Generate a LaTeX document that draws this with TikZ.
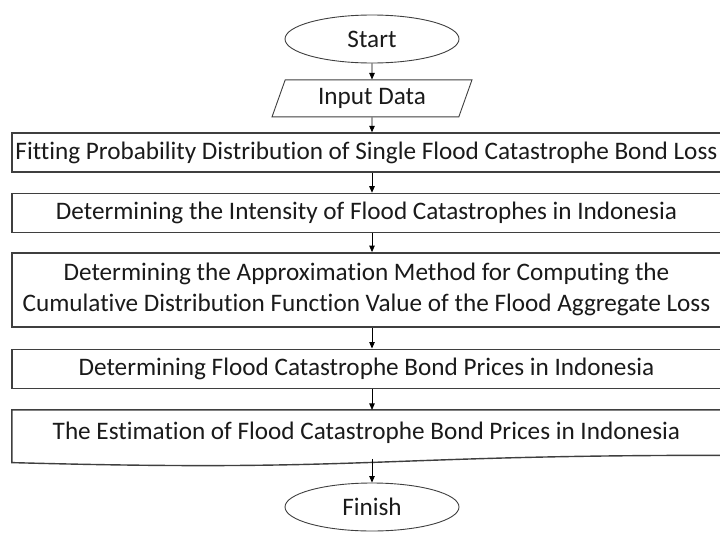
\documentclass[tikz,border=0pt]{standalone}
\usepackage{fontspec}
\setmainfont{Carlito}[Ligatures=NoCommon]
\usepackage{tikz}
\usetikzlibrary{
  arrows.meta,
  shapes.geometric,
  positioning,
  calc
}
\definecolor{fcLine}{HTML}{3F3F3F}
\definecolor{fcText}{HTML}{1A1A1A}
\tikzset{
  fcnode/.style={
    inner sep=0pt, font=\fontsize{25.2}{31}\selectfont, text=fcText, align=center
  },
  terminal/.style={fcnode, draw=fcLine, ellipse, line width=0.9pt,
    minimum width=174pt, minimum height=48pt},
  iobox/.style={fcnode, draw=fcLine, trapezium, trapezium left angle=68,
    trapezium right angle=112, trapezium stretches=true, line width=0.9pt,
    minimum width=200pt, minimum height=37pt},
  stepbox/.style={fcnode, draw=fcLine, line width=1.4pt,
    minimum width=709pt, minimum height=39pt},
  docbox/.style={fcnode, minimum width=709pt, minimum height=45pt},
  flow/.style={-{Triangle[length=6.5pt, width=5.5pt]}, line width=0.8pt, black}
}
\begin{document}
\begin{tikzpicture}[node distance=20pt]
  \useasboundingbox (0,0) rectangle (720pt,-536pt);
  \node[terminal] (start) at (372pt,-39pt) {Start};
  \node[iobox, below=16pt of start] (input) {Input Data};
  \node[stepbox] (fit) at (366.5pt,-152.5pt)
    {Fitting Probability Distribution of Single Flood Catastrophe Bond Loss};
  \node[stepbox, below=of fit] (intens)
    {Determining the Intensity of Flood Catastrophes in Indonesia};
  \node[stepbox, below=19pt of intens, minimum height=74pt] (approx)
    {Determining the Approximation Method for Computing the\\
     Cumulative Distribution Function Value of the Flood Aggregate Loss};
  \node[stepbox, below=21pt of approx] (price)
    {Determining Flood Catastrophe Bond Prices in Indonesia};
  \node[docbox, below=21pt of price] (estim)
    {The Estimation of Flood Catastrophe Bond Prices in Indonesia};
  \node[terminal] (finish) at (372pt,-507pt) {Finish};

  % document shape with the wavy lower edge
  \draw[fcLine, line width=1.4pt] (estim.north west) -- (estim.north east)
    -- (estim.south east)
    .. controls (estim.south) and ($(estim.south)+(0,-17pt)$)
    .. ($(estim.south west)+(0,-7.3pt)$) -- cycle;

  % connectors
  \draw[flow] (start) -- (input);
  \draw[flow] (input) -- (input.south |- fit.north);
  \draw[flow] (start.south |- fit.south) -- (start.south |- intens.north);
  \draw[flow] (start.south |- intens.south) -- (start.south |- approx.north);
  \draw[flow] (start.south |- approx.south) -- (start.south |- price.north);
  \draw[flow] (start.south |- price.south) -- (start.south |- estim.north);
  \draw[flow] ($(estim.south -| finish)+(0,-3.5pt)$) -- (finish);
\end{tikzpicture}
\end{document}
